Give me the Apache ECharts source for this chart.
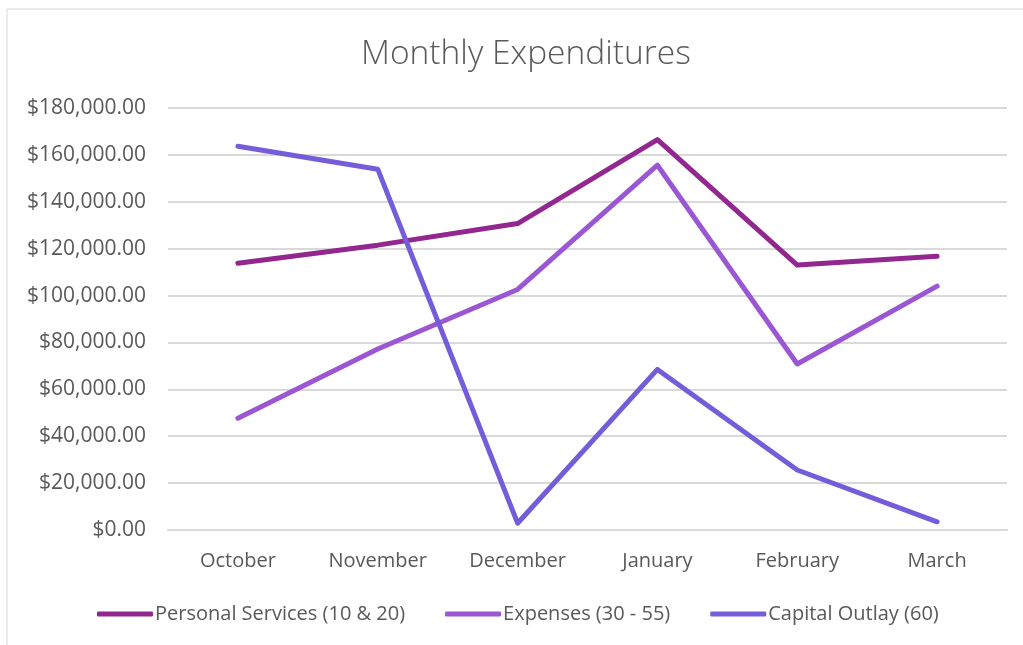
<!DOCTYPE html>
<html>
<head>
<meta charset="utf-8">
<script src="https://cdn.jsdelivr.net/npm/echarts@6/dist/echarts.min.js"></script>
<style>
  html, body { margin: 0; padding: 0; background: #fff; }
  #chart { width: 1023px; height: 645px; }
</style>
</head>
<body>
<div id="chart"></div>
<script>
const months = ['October', 'November', 'December', 'January', 'February', 'March'];
const personalServices = [113800, 121500, 130700, 166500, 113000, 116800];
const expenses = [47700, 77200, 102600, 155600, 70800, 104000];
const capitalOutlay = [163700, 153900, 2900, 68500, 25600, 3500];

const textColor = '#595959';
const font = '"Open Sans", "Noto Sans", sans-serif';

const myChart = echarts.init(document.getElementById('chart'));

const lineSeries = (name, data, color) => ({
  name: name,
  type: 'line',
  data: data,
  symbol: 'none',
  lineStyle: { width: 5, color: color, cap: 'round', join: 'round' },
  itemStyle: { color: color },
});

const option = {
  animation: false,
  backgroundColor: '#fff',
  graphic: [
    {
      type: 'rect',
      shape: { x: 7, y: 9, width: 1100, height: 700 },
      style: { fill: 'none', stroke: '#d9d9d9', lineWidth: 1 },
      silent: true,
    },
  ],
  title: {
    text: 'Monthly Expenditures',
    left: 356,
    top: 32,
    textStyle: { color: textColor, fontFamily: font, fontSize: 33.5, fontWeight: 300 },
  },
  legend: {
    left: 92,
    top: 599,
    icon: 'roundRect',
    itemWidth: 56,
    itemHeight: 5,
    itemGap: 40,
    textStyle: { color: textColor, fontFamily: font, fontSize: 20, padding: [0, 0, 0, -3] },
  },
  grid: {
    left: 168,
    right: 16,
    top: 108,
    bottom: 115,
  },
  xAxis: {
    type: 'category',
    data: months,
    axisLine: { lineStyle: { color: '#d9d9d9', width: 2 } },
    axisTick: { show: false },
    axisLabel: { color: textColor, fontFamily: font, fontSize: 20, margin: 21 },
  },
  yAxis: {
    type: 'value',
    min: 0,
    max: 180000,
    interval: 20000,
    axisLine: { show: false },
    axisTick: { show: false },
    splitLine: { lineStyle: { color: '#d9d9d9', width: 2 } },
    axisLabel: {
      color: textColor,
      fontFamily: font,
      fontSize: 21,
      margin: 22,
      formatter: (v) => '$' + v.toLocaleString('en-US', { minimumFractionDigits: 2, maximumFractionDigits: 2 }),
    },
  },
  series: [
    lineSeries('Personal Services (10 & 20)', personalServices, '#92278f'),
    lineSeries('Expenses (30 - 55)', expenses, '#9b57d3'),
    lineSeries('Capital Outlay (60)', capitalOutlay, '#755dd9'),
  ],
};

option && myChart.setOption(option);
</script>
</body>
</html>
